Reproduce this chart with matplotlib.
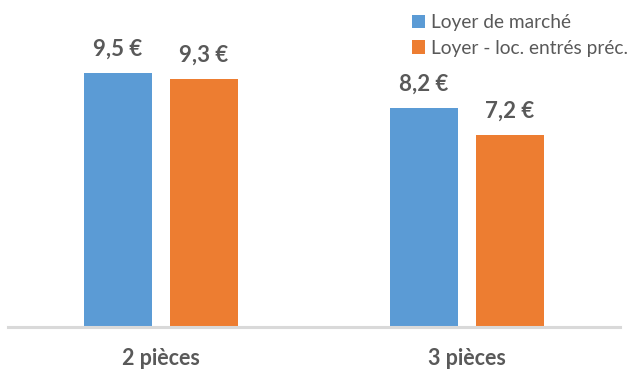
import numpy as np
import matplotlib.pyplot as plt

categories = ['2 pièces', '3 pièces']
series_names = ['Loyer de marché', 'Loyer - loc. entrés préc.']
loyer_marche = [9.5, 8.2]
loyer_precedent = [9.3, 7.2]
colors = ['#5B9BD5', '#ED7D31']
text_color = '#595959'

plt.rcParams['font.family'] = ['Lato', 'DejaVu Sans']

fig = plt.figure(figsize=(6.27, 3.69), dpi=100)
ax = fig.add_axes([8 / 627, 42 / 369, 612 / 627, 1 - 42 / 369])

x = np.arange(len(categories))
width = 0.222
offset = 0.1405
series = [loyer_marche, loyer_precedent]
for i, (vals, name) in enumerate(zip(series, series_names)):
    pos = x + (offset if i else -offset)
    bars = ax.bar(pos, vals, width, color=colors[i], label=name)
    for b, v in zip(bars, vals):
        ax.text(b.get_x() + b.get_width() / 2, v + 0.5, f'{v:.1f} €'.replace('.', ','),
                ha='center', va='bottom', fontsize=16, fontweight='bold', color=text_color)

ax.set_xlim(-0.5, 1.5)
ax.set_ylim(0, 12.25)
ax.set_yticks([])
ax.set_xticks(x)
ax.set_xticklabels(categories, fontsize=15.5, fontweight='bold', color=text_color)
ax.tick_params(axis='x', length=0, pad=15)
for s in ['top', 'right', 'left']:
    ax.spines[s].set_visible(False)
ax.spines['bottom'].set_color('#D9D9D9')
ax.spines['bottom'].set_linewidth(2.2)

leg = fig.legend(loc='upper left', bbox_to_anchor=(412 / 627, 1 - 14 / 369), frameon=False,
                 fontsize=13.8, handlelength=0.7, handleheight=0.7, handletextpad=0.27,
                 labelspacing=0.45, borderpad=0, borderaxespad=0)
for t in leg.get_texts():
    t.set_color(text_color)

fig.savefig('out.png', dpi=100)
